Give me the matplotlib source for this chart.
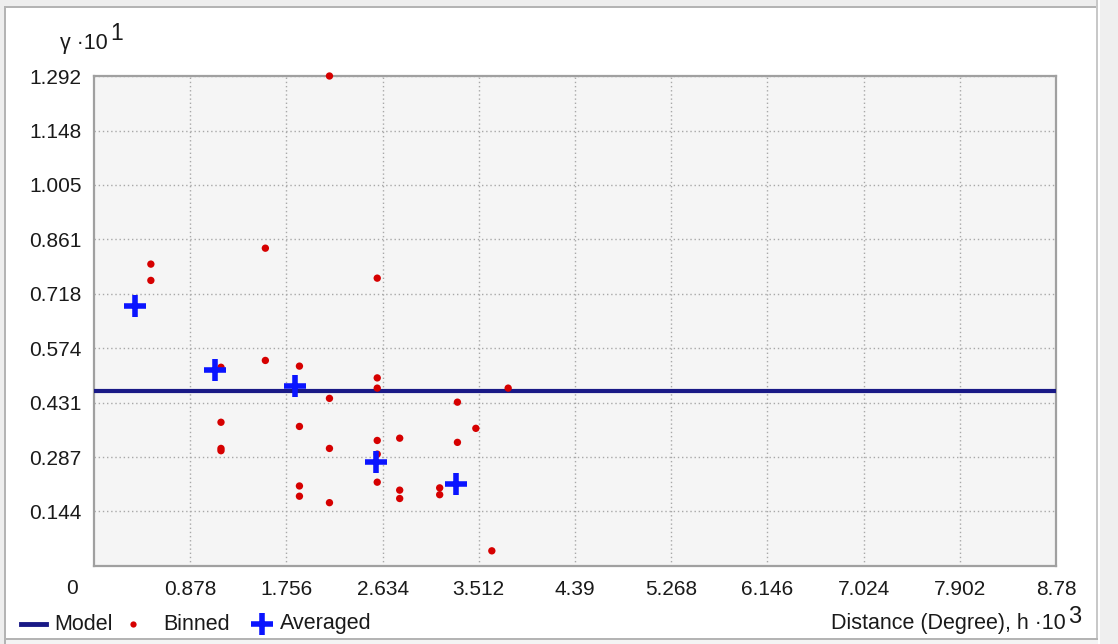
import matplotlib.pyplot as plt
from matplotlib.patches import Rectangle
from matplotlib.lines import Line2D

# semivariogram cloud (gamma in units of 10^1, distance in units of 10^3)
binned_h = [0.519, 0.519, 1.564, 2.585, 1.564, 1.159, 1.875, 2.585, 2.585, 3.780,
            2.149, 3.317, 1.159, 1.875, 3.485, 2.790, 2.585, 3.317, 1.159, 1.159,
            2.149, 2.585, 2.585, 1.875, 3.155, 2.790, 3.155, 1.875, 2.790, 2.149,
            3.631, 2.149]
binned_gamma = [0.796, 0.753, 0.838, 0.759, 0.542, 0.524, 0.527, 0.496, 0.469, 0.469,
                0.442, 0.432, 0.379, 0.368, 0.363, 0.337, 0.331, 0.326, 0.310, 0.304,
                0.310, 0.295, 0.221, 0.211, 0.206, 0.200, 0.188, 0.184, 0.178, 0.167,
                0.040, 1.292]

averaged_h = [0.372, 1.107, 1.838, 2.570, 3.302]
averaged_gamma = [0.685, 0.517, 0.474, 0.273, 0.215]

model_nugget = 0.462

x_ticks = [0.878, 1.756, 2.634, 3.512, 4.39, 5.268, 6.146, 7.024, 7.902, 8.78]
y_ticks = [0.144, 0.287, 0.431, 0.574, 0.718, 0.861, 1.005, 1.148, 1.292]
x_max = 8.78
y_max = 1.292

W, H = 1118, 644
TXT = '#1a1a1a'
MODEL_C = '#191986'
BIN_C = '#d60000'
AVG_C = '#0a14ff'
plt.rcParams['font.family'] = ['Liberation Sans', 'DejaVu Sans']

fig = plt.figure(figsize=(W / 100, H / 100), dpi=100)
fig.patch.set_facecolor('white')


def fx(x):
    return x / W


def fy(y):
    # pixel rows are counted from the top
    return 1 - y / H


def box(x0, y0, x1, y1, color):
    fig.add_artist(Rectangle((fx(x0), fy(y1)), (x1 - x0) / W, (y1 - y0) / H,
                             transform=fig.transFigure, facecolor=color,
                             edgecolor='none', zorder=0))


# window frame
box(0, 0, 1098, 7, '#eeeeee')
box(4, 6, 1098, 8, '#b4b4b4')
box(0, 0, 4, 644, '#eeeeee')
box(4, 6, 6, 644, '#b4b4b4')
box(1096, 0, 1098, 644, '#c8c8c8')
box(1100, 0, 1118, 644, '#efefef')
box(6, 638, 1098, 640, '#b4b4b4')
box(6, 640, 1098, 644, '#f4f4f4')

ax = fig.add_axes([fx(94), fy(566), (1056 - 94) / W, (566 - 76) / H])
ax.set_facecolor('#f5f5f5')

ax.axhline(model_nugget, color=MODEL_C, lw=3, zorder=3)
ax.scatter(binned_h, binned_gamma, s=28, color=BIN_C, edgecolors='none',
           zorder=4, clip_on=False)
ax.plot(averaged_h, averaged_gamma, ls='none', marker='+', ms=16.5, mew=4,
        color=AVG_C, zorder=5)

ax.set_xlim(0, x_max)
ax.set_ylim(0, y_max)
ax.set_xticks(x_ticks)
ax.set_xticklabels([f'{v:g}' for v in x_ticks])
ax.set_yticks(y_ticks)
ax.set_yticklabels([f'{v:.3f}' for v in y_ticks])
ax.tick_params(length=0, labelsize=15, colors=TXT)
ax.tick_params(axis='x', pad=10)
ax.tick_params(axis='y', pad=9)
ax.grid(True, color='#a8a8a8', ls=(0, (1, 2)), lw=1)
ax.set_axisbelow(True)
for sp in ax.spines.values():
    sp.set_color('#a0a0a0')
    sp.set_linewidth(1.6)

# origin label sits left of the corner
ax.annotate('0', xy=(0, 0), xycoords='data', xytext=(-22, -22),
            textcoords='offset pixels', ha='center', va='center', fontsize=15,
            color=TXT, annotation_clip=False)

# axis titles with superscript exponents
ylab = fig.text(fx(60), fy(43), 'γ ·10', fontsize=15.5, color=TXT, va='center')
xlab = fig.text(fx(1066), fy(624), 'Distance (Degree), h ·10', fontsize=15.5,
                color=TXT, va='center', ha='right')
ax.annotate('1', xy=(1, 0.5), xycoords=ylab, xytext=(3, 10),
            textcoords='offset pixels', fontsize=16.5, color=TXT,
            va='center', ha='left')
ax.annotate('3', xy=(1, 0.5), xycoords=xlab, xytext=(2, 7),
            textcoords='offset pixels', fontsize=17, color=TXT,
            va='center', ha='left')

# legend row along the bottom edge
leg_y = fy(624)
fig.add_artist(Line2D([fx(21), fx(46)], [leg_y, leg_y], color=MODEL_C, lw=3.5,
                      transform=fig.transFigure))
fig.text(fx(54), leg_y, 'Model', fontsize=15.5, color=TXT, va='center')
fig.add_artist(Line2D([fx(133)], [leg_y], ls='none', marker='o', ms=4.5,
                      color=BIN_C, mec='none', transform=fig.transFigure))
fig.text(fx(163), leg_y, 'Binned', fontsize=15.5, color=TXT, va='center')
fig.add_artist(Line2D([fx(262)], [leg_y], ls='none', marker='+', ms=16.5, mew=4,
                      color=AVG_C, transform=fig.transFigure))
fig.text(fx(280), leg_y, 'Averaged', fontsize=15.5, color=TXT, va='center')

fig.savefig('out.png', dpi=100)
